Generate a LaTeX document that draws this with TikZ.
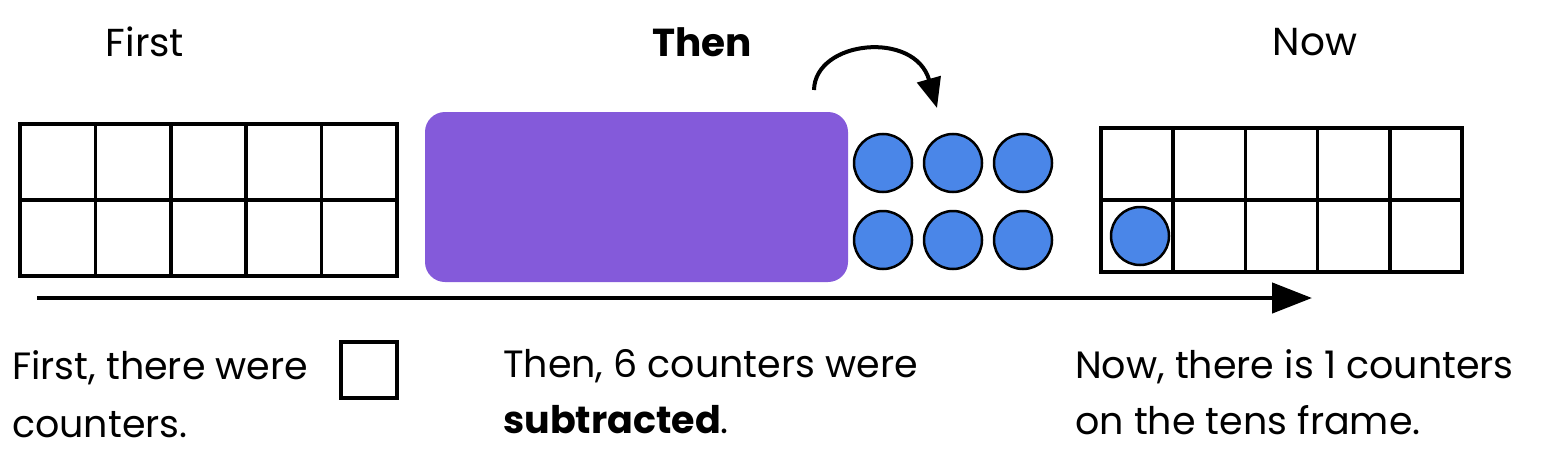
\documentclass[tikz,border=0pt]{standalone}
\usepackage{fontspec}
\setmainfont{Poppins}
\usetikzlibrary{arrows.meta}
\definecolor{purp}{HTML}{845ADA}
\definecolor{cblue}{HTML}{4A86E8}
\tikzset{cell/.style={draw,line width=3.5pt},
counter/.style={circle,draw,line width=2.5pt,fill=cblue,minimum size=58pt,inner sep=0pt},
lab/.style={font=\fontsize{38}{56}\selectfont,anchor=west,inner sep=0pt,align=left}}
\begin{document}
\begin{tikzpicture}[x=1pt,y=-1pt]
\useasboundingbox (0,0) rectangle (1552,452);
\node[font=\fontsize{39}{44}\selectfont] (t1) at (145,42) {First};
\node[font=\fontsize{39}{44}\selectfont\bfseries] (t2) at (702,42) {Then};
\node[font=\fontsize{39}{44}\selectfont] (t3) at (1315,42) {Now};
% left frame
\foreach \i in {0,...,4}{\foreach \j in {0,1}{
\draw[cell] (20+\i*75.4,124+\j*76) rectangle ++(75.4,76);}}
\node[fill=purp,rounded corners=20pt,minimum width=423pt,minimum height=170pt] (pr) at (636.5,197) {};
\foreach \x/\n in {883/a,953/b,1023/c}{
\node[counter] (u\n) at (\x,163) {};
\node[counter] (l\n) at (\x,240) {};}
% right frame
\foreach \i in {0,...,4}{\foreach \j in {0,1}{
\draw[cell] (1101+\i*72.2,128+\j*72) rectangle ++(72.2,72);}}
\node[counter] (rc) at (1140,236) {};
\coordinate (as) at (37,298); \coordinate (ae) at (1312,298);
\draw[line width=4.5pt,-{Triangle[length=40pt,width=30pt]}] (as) -- (ae);
\coordinate (cs) at (814,90); \coordinate (ce) at (937,108);
\draw[line width=4pt,-{Triangle[length=30pt,width=24pt]}] (cs) .. controls (815,40) and (915,30) .. (ce);
\node[lab] (f1) at (12,368) {First, there were};
\node[draw,line width=3.5pt,minimum size=56pt] (bx) at (369,370) {};
\node[lab] (f2) at (12,425) {counters.};
\node[lab] (m1) at (503,392) {Then, 6 counters were\\\textbf{subtracted}.};
\node[lab] (n1) at (1075,392) {Now, there is 1 counters\\on the tens frame.};
\end{tikzpicture}
\end{document}
